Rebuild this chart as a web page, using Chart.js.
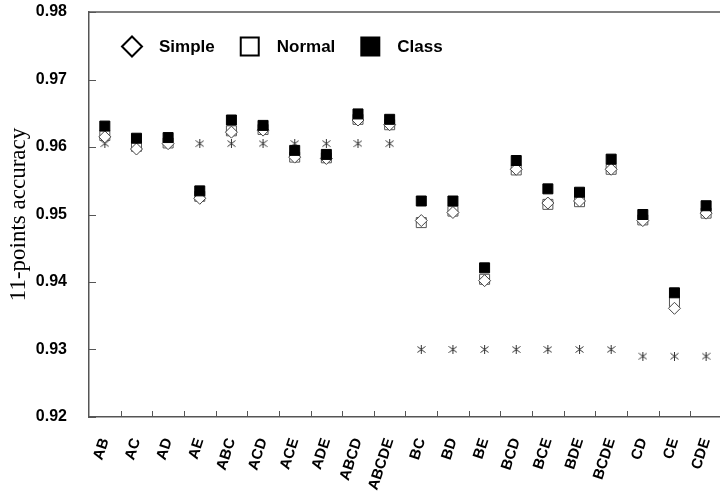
<!DOCTYPE html>
<html>
<head>
<meta charset="utf-8">
<script src="https://cdn.jsdelivr.net/npm/chart.js@4.4.1/dist/chart.umd.min.js"></script>
<style>
  html, body { margin: 0; padding: 0; background: #fff; overflow: hidden; }
  #wrap { width: 720px; height: 499px; overflow: hidden; }
</style>
</head>
<body>
<div id="wrap"><canvas id="accChart" width="730" height="499"></canvas></div>
<script>
// feature combinations on the x axis
const combos = ['AB', 'AC', 'AD', 'AE', 'ABC', 'ACD', 'ACE', 'ADE', 'ABCD', 'ABCDE',
                'BC', 'BD', 'BE', 'BCD', 'BCE', 'BDE', 'BCDE', 'CD', 'CE', 'CDE'];

// 11-points accuracy
const simpleAcc = [0.9615, 0.9597, 0.9605, 0.9524, 0.9622, 0.9625, 0.9585, 0.9583, 0.9640, 0.9633,
                   0.9491, 0.9503, 0.9402, 0.9567, 0.9517, 0.9520, 0.9567, 0.9491, 0.9361, 0.9502];
const normalAcc = [0.9617, 0.9601, 0.9606, 0.9527, 0.9624, 0.9626, 0.9585, 0.9584, 0.9641, 0.9633,
                   0.9488, 0.9505, 0.9404, 0.9566, 0.9515, 0.9519, 0.9567, 0.9492, 0.9371, 0.9502];
const classAcc  = [0.9631, 0.9613, 0.9614, 0.9535, 0.9640, 0.9632, 0.9595, 0.9589, 0.9649, 0.9641,
                   0.9520, 0.9520, 0.9421, 0.9580, 0.9538, 0.9533, 0.9582, 0.9500, 0.9384, 0.9513];
const baseAcc   = [0.9605, 0.9605, 0.9605, 0.9605, 0.9605, 0.9605, 0.9605, 0.9605, 0.9605, 0.9605,
                   0.9300, 0.9300, 0.9300, 0.9300, 0.9300, 0.9300, 0.9300, 0.9290, 0.9290, 0.9290];

const yTicks = [0.92, 0.93, 0.94, 0.95, 0.96, 0.97, 0.98];
const legendOrder = ['Simple', 'Normal', 'Class'];

const AXIS_GREY = '#555';

// small asterisk used for the baseline series
function makeAsterisk(size, color) {
    const c = document.createElement('canvas');
    c.width = size;
    c.height = size;
    const g = c.getContext('2d');
    const m = size / 2;
    g.strokeStyle = color;
    g.lineWidth = 1;
    g.beginPath();
    g.moveTo(m, 0); g.lineTo(m, size);
    g.moveTo(0.5, 1.5); g.lineTo(size - 0.5, size - 1.5);
    g.moveTo(size - 0.5, 1.5); g.lineTo(0.5, size - 1.5);
    g.stroke();
    return c;
}

// legend drawn inside the plot, top left
const insideLegend = {
    id: 'insideLegend',
    afterDraw(chart) {
        const { ctx, chartArea } = chart;
        const y = chartArea.top + 34.5;
        let x = chartArea.left + 33;
        ctx.save();
        ctx.font = 'bold 17px "Liberation Sans", Arial, sans-serif';
        ctx.textBaseline = 'middle';
        legendOrder.forEach(label => {
            const ds = chart.data.datasets.find(d => d.label === label);
            ctx.lineWidth = 2;
            ctx.strokeStyle = '#000';
            ctx.fillStyle = ds.pointBackgroundColor;
            ctx.beginPath();
            if (ds.pointStyle === 'rectRot') {
                ctx.moveTo(x, y);
                ctx.lineTo(x + 10, y - 10);
                ctx.lineTo(x + 20, y);
                ctx.lineTo(x + 10, y + 10);
                ctx.closePath();
            } else {
                ctx.rect(x + 1, y - 9, 18, 18);
            }
            ctx.fill();
            ctx.stroke();
            ctx.fillStyle = '#000';
            ctx.fillText(label, x + 37, y + 1);
            x += 37 + ctx.measureText(label).width + 25;
        });
        ctx.restore();
    }
};

// top frame line and inward tick marks
const frameTicks = {
    id: 'frameTicks',
    afterDraw(chart) {
        const { ctx, chartArea, scales } = chart;
        ctx.save();
        ctx.strokeStyle = AXIS_GREY;
        ctx.lineWidth = 1.5;
        ctx.beginPath();
        ctx.moveTo(chartArea.left, chartArea.top);
        ctx.lineTo(chartArea.right, chartArea.top);
        ctx.stroke();

        ctx.lineWidth = 1;
        ctx.beginPath();
        scales.y.ticks.forEach(t => {
            const py = Math.round(scales.y.getPixelForValue(t.value)) + 0.5;
            ctx.moveTo(chartArea.left, py);
            ctx.lineTo(chartArea.left + 7, py);
        });
        for (let i = 1; i <= combos.length; i++) {
            const px = Math.round((scales.x.getPixelForValue(i - 1) + scales.x.getPixelForValue(i)) / 2) + 0.5;
            ctx.moveTo(px, chartArea.bottom);
            ctx.lineTo(px, chartArea.bottom - 6);
        }
        ctx.stroke();
        ctx.restore();
    }
};

const ctx = document.getElementById('accChart').getContext('2d');
const accChart = new Chart(ctx, {
    type: 'line',
    data: {
        labels: combos,
        datasets: [{
            label: 'Class',
            data: classAcc,
            pointStyle: 'rect',
            pointRadius: 7.07,
            pointBackgroundColor: '#000',
            pointBorderColor: '#000',
            pointBorderWidth: 1
        }, {
            label: 'Simple',
            data: simpleAcc,
            pointStyle: 'rectRot',
            pointRadius: 6,
            pointBackgroundColor: '#fff',
            pointBorderColor: '#444',
            pointBorderWidth: 1
        }, {
            label: 'Normal',
            data: normalAcc,
            pointStyle: 'rect',
            pointRadius: 7.07,
            pointBackgroundColor: '#fff',
            pointBorderColor: '#555',
            pointBorderWidth: 1
        }, {
            label: 'Baseline',
            data: baseAcc,
            pointStyle: makeAsterisk(9, '#333'),
            pointRadius: 5
        }]
    },
    options: {
        responsive: false,
        animation: false,
        showLine: false,
        layout: { padding: { top: 12, right: 4, left: 0, bottom: 0 } },
        plugins: {
            legend: { display: false },
            tooltip: { enabled: false }
        },
        scales: {
            x: {
                offset: true,
                grid: { display: false, drawTicks: false },
                border: { display: true, color: AXIS_GREY, width: 1.5 },
                ticks: {
                    color: '#000',
                    font: { family: '"Liberation Sans", Arial, sans-serif', size: 15, weight: 'bold' },
                    minRotation: 72,
                    maxRotation: 72,
                    padding: 19,
                    autoSkip: false
                },
                afterFit(scale) {
                    scale.height = 82;
                    scale.paddingLeft = 0;
                    scale.paddingRight = 0;
                }
            },
            y: {
                min: 0.92,
                max: 0.98,
                afterBuildTicks(scale) {
                    scale.ticks = yTicks.map(v => ({ value: v }));
                },
                grid: { display: false, drawTicks: false },
                border: { display: true, color: AXIS_GREY, width: 1.5 },
                ticks: {
                    color: '#000',
                    padding: 22,
                    font: { family: '"Liberation Sans", Arial, sans-serif', size: 16, weight: 'bold' },
                    callback: v => Number(v).toFixed(2)
                },
                title: {
                    display: true,
                    text: '11-points accuracy',
                    color: '#000',
                    padding: { top: 5, bottom: 0 },
                    font: { family: '"Liberation Serif", "Times New Roman", serif', size: 23, weight: 'normal' }
                },
                afterFit(scale) {
                    scale.width = 89;
                    scale.paddingTop = 0;
                    scale.paddingBottom = 0;
                }
            }
        }
    },
    plugins: [insideLegend, frameTicks]
});
</script>
</body>
</html>
